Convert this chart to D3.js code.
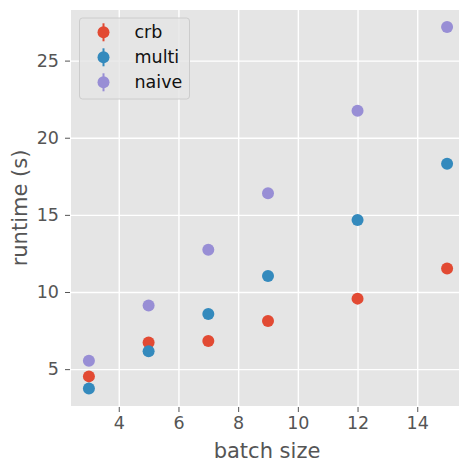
<!DOCTYPE html>
<html lang="en">
  <head>
    <meta charset="UTF-8" />
    <title>runtime vs batch size</title>
    <style>
      * {
        margin: 0;
        padding: 0;
      }
      body {
        background: #fff;
      }
      svg {
        font-family: 'DejaVu Sans', sans-serif;
      }
    </style>
  </head>
  <body>
    <script src="https://cdn.jsdelivr.net/npm/d3@7"></script>
    <script>
      const batchSizes = [3, 5, 7, 9, 12, 15]
      const crb = [4.53, 6.73, 6.83, 8.12, 9.57, 11.53]
      const multi = [3.75, 6.16, 8.58, 11.03, 14.67, 18.32]
      const naive = [5.54, 9.13, 12.74, 16.4, 21.75, 27.18]
      const seriesNames = ['crb', 'multi', 'naive']
      const colors = ['#E24A33', '#348ABD', '#988ED5']
      const xTicks = [4, 6, 8, 10, 12, 14]
      const yTicks = [5, 10, 15, 20, 25]

      const width = 459
      const height = 460
      const margin = { left: 71, top: 10, bottom: 54 }
      const plotW = 394
      const plotH = height - margin.top - margin.bottom

      const svg = d3
        .select('body')
        .append('svg')
        .attr('width', width)
        .attr('height', height)

      const x = d3.scaleLinear().domain([2.4, 15.6]).range([margin.left, margin.left + plotW])
      const y = d3.scaleLinear().domain([2.61, 28.28]).range([margin.top + plotH, margin.top])

      // 背景
      svg
        .append('rect')
        .attr('x', margin.left)
        .attr('y', margin.top)
        .attr('width', plotW)
        .attr('height', plotH)
        .attr('fill', '#E5E5E5')

      // 网格
      const xAxis = d3.axisBottom(x).tickValues(xTicks).tickSize(-plotH).tickPadding(11)
      const yAxis = d3.axisLeft(y).tickValues(yTicks).tickSize(-plotW).tickPadding(12)

      const gx = svg
        .append('g')
        .attr('transform', `translate(0,${margin.top + plotH})`)
        .call(xAxis)
      const gy = svg
        .append('g')
        .attr('transform', `translate(${margin.left},0)`)
        .call(yAxis)

      for (const g of [gx, gy]) {
        g.select('.domain').remove()
        g.selectAll('.tick line').attr('stroke', '#fff').attr('stroke-width', 1.4)
        g.selectAll('.tick text').attr('fill', '#555').attr('font-size', 17.5).attr('font-family', 'DejaVu Sans')
      }
      // 刻度短线
      gx.selectAll('.tick')
        .append('line')
        .attr('y1', 1)
        .attr('y2', 6)
        .attr('stroke', '#555')
        .attr('stroke-width', 1)
      gy.selectAll('.tick')
        .append('line')
        .attr('x1', -1)
        .attr('x2', -6)
        .attr('stroke', '#555')
        .attr('stroke-width', 1)

      // 点
      const allSeries = [crb, multi, naive]
      allSeries.forEach((vals, i) => {
        svg
          .append('g')
          .selectAll('circle')
          .data(vals)
          .join('circle')
          .attr('cx', (d, j) => x(batchSizes[j]))
          .attr('cy', d => y(d))
          .attr('r', 6)
          .attr('fill', colors[i])
      })

      // 坐标轴标题
      svg
        .append('text')
        .attr('x', margin.left + plotW / 2 - 1)
        .attr('y', 457.5)
        .attr('text-anchor', 'middle')
        .attr('fill', '#555')
        .attr('font-size', 21)
        .text('batch size')
      svg
        .append('text')
        .attr('transform', `translate(27,${margin.top + plotH / 2}) rotate(-90)`)
        .attr('text-anchor', 'middle')
        .attr('fill', '#555')
        .attr('font-size', 21)
        .text('runtime (s)')

      // 图例
      const legend = svg.append('g').attr('transform', 'translate(79.5,18)')
      legend
        .append('rect')
        .attr('width', 110)
        .attr('height', 81)
        .attr('rx', 3)
        .attr('fill', '#E5E5E5')
        .attr('fill-opacity', 0.8)
        .attr('stroke', '#CCCCCC')
        .attr('stroke-width', 1)
      seriesNames.forEach((name, i) => {
        const row = legend.append('g').attr('transform', `translate(0,${14.3 + i * 25})`)
        row
          .append('line')
          .attr('x1', 24)
          .attr('x2', 24)
          .attr('y1', -9)
          .attr('y2', 9)
          .attr('stroke', colors[i])
          .attr('stroke-width', 2)
        row.append('circle').attr('cx', 24).attr('cy', 0).attr('r', 6).attr('fill', colors[i])
        row
          .append('text')
          .attr('x', 55)
          .attr('y', 0)
          .attr('dy', '0.35em')
          .attr('fill', '#111')
          .attr('font-size', 17.5)
          .text(name)
      })
    </script>
  </body>
</html>
